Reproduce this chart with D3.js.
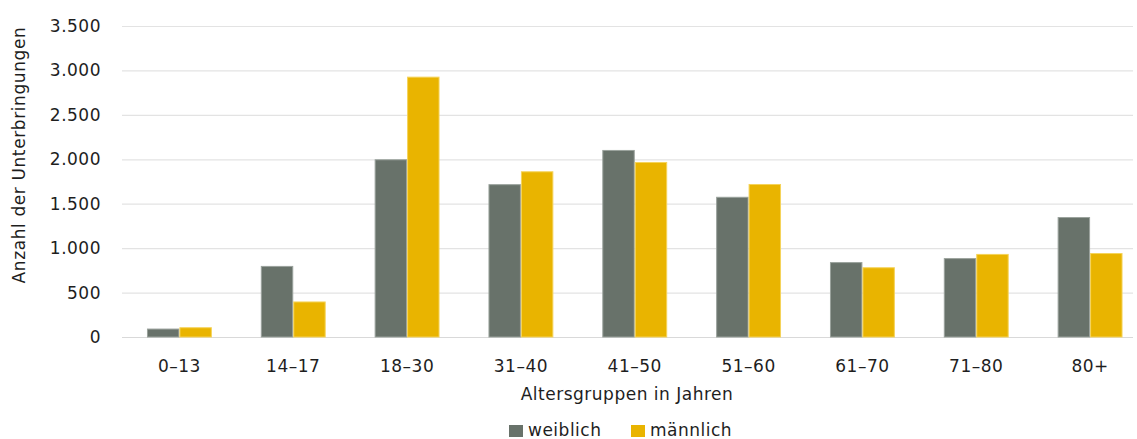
<!DOCTYPE html>
<html><head><meta charset="utf-8">
<script src="https://cdn.jsdelivr.net/npm/d3@7"></script>
<style>body{margin:0;background:#fff;} text{font-family:"DejaVu Sans",sans-serif;fill:#1e1e1e;font-size:17px;letter-spacing:0.5px;}</style>
</head><body>
<svg id="chart" width="1137" height="439"></svg>
<script>
const categories = ["0–13","14–17","18–30","31–40","41–50","51–60","61–70","71–80","80+"];
const weiblich = [95, 800, 2000, 1720, 2105, 1578, 843, 888, 1350];
const maennlich = [110, 400, 2930, 1865, 1970, 1722, 785, 935, 945];
const seriesNames = ["weiblich","männlich"];
const yTicks = [0,500,1000,1500,2000,2500,3000,3500];

(function(){
const colors = ["#68726a","#e9b400"];
const strokes = ["#9aa29c","#f5d35a"];
const svg = d3.select("#chart");
const pLeft = 122, pRight = 1133, pTop = 26, pBottom = 337;

const x = d3.scaleBand().domain(categories).range([122.5,1147]).paddingInner(0.43).paddingOuter(0.215);
const x1 = d3.scaleBand().domain(seriesNames).range([0,x.bandwidth()]);
const y = d3.scaleLinear().domain([0,3500]).range([pBottom,pTop]);
const fmt = v => d3.format(",")(v).replace(/,/g,".");

svg.append("g").selectAll("line").data(yTicks).join("line")
  .attr("x1",pLeft).attr("x2",pRight)
  .attr("y1",d=>y(d)+0.5).attr("y2",d=>y(d)+0.5)
  .attr("stroke",d=>d===0?"#d9d9d9":"#e3e3e3").attr("stroke-width",1.2);

svg.append("g").selectAll("text").data(yTicks).join("text")
  .attr("x",101).attr("y",d=>y(d)).attr("dy","0.35em")
  .attr("text-anchor","end").text(fmt);

const data = [weiblich, maennlich];
data.forEach((vals,si)=>{
  svg.append("g").selectAll("rect").data(vals).join("rect")
    .attr("x",(d,i)=>x(categories[i])+x1(seriesNames[si])+0.5)
    .attr("width",x1.bandwidth()-1)
    .attr("y",d=>y(d)+0.5)
    .attr("height",d=>pBottom-y(d)-0.5)
    .attr("fill",colors[si]).attr("stroke",strokes[si]).attr("stroke-width",1);
});

svg.append("g").selectAll("text").data(categories).join("text")
  .attr("x",d=>x(d)+x.bandwidth()/2).attr("y",372)
  .attr("text-anchor","middle").text(d=>d);

svg.append("text").attr("x",627).attr("y",400).attr("text-anchor","middle")
  .text("Altersgruppen in Jahren");

svg.append("text").attr("transform","translate(25,155) rotate(-90)")
  .attr("text-anchor","middle").style("letter-spacing","0.6px").text("Anzahl der Unterbringungen");

const legX = [509, 631];
seriesNames.forEach((n,i)=>{
  svg.append("rect").attr("x",legX[i]).attr("y",425).attr("width",14).attr("height",12).attr("fill",colors[i]);
  svg.append("text").attr("x",legX[i]+19).attr("y",436).text(n);
});
})();
</script>
</body></html>
